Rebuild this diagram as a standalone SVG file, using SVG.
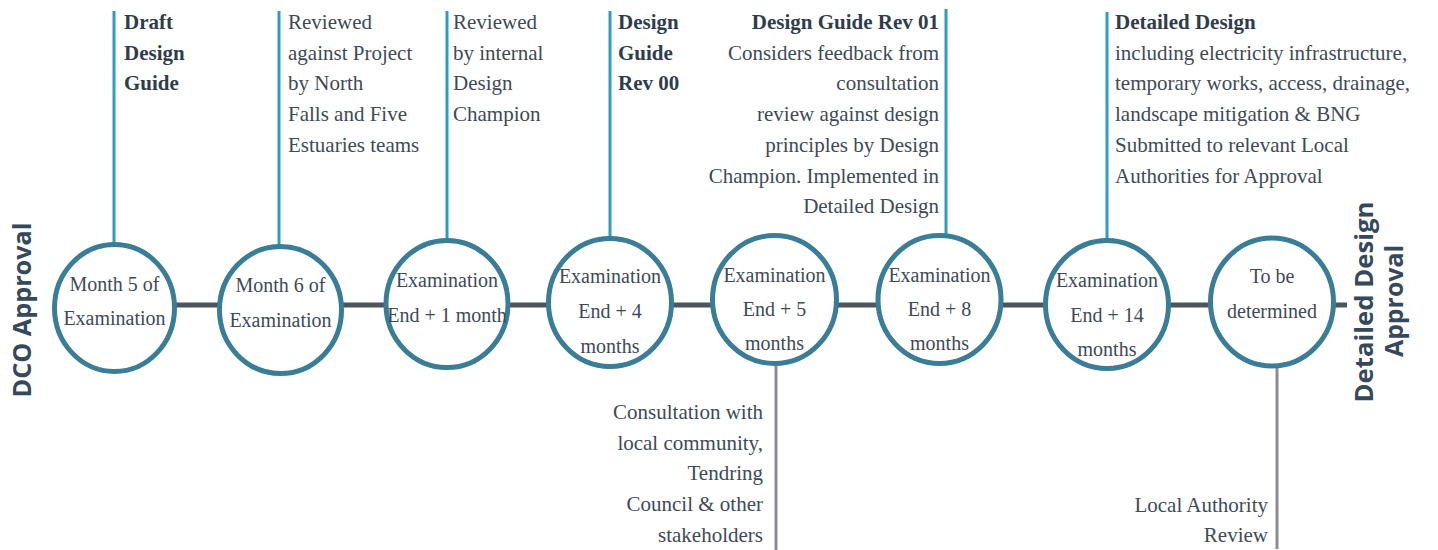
<svg xmlns="http://www.w3.org/2000/svg" width="1438" height="550" viewBox="0 0 1438 550">
<style>
.t{font-family:"Liberation Serif","DejaVu Serif",serif;font-size:21px;fill:#3e4a56}
.b{font-weight:bold;fill:#2f3d4b}
.c{font-family:"Liberation Serif","DejaVu Serif",serif;font-size:20px;fill:#3e4a56;text-anchor:middle}
.e{text-anchor:end}
.ring{fill:#ffffff;stroke:#3a7d96;stroke-width:5}
.up{stroke:#2f9cc2;stroke-width:3}
.down{stroke:#8a8c92;stroke-width:3}
.axis{stroke:#4b555b;stroke-width:5}
.v{font-family:"Open Sans","DejaVu Sans",sans-serif;font-weight:bold;font-size:25px;fill:#35495b;text-anchor:middle}
</style>
<rect width="1438" height="550" fill="#ffffff"/>
<g id="connectors">
<line class="axis" x1="114" y1="305" x2="1347" y2="305"/>
</g>
<g id="dco-approval">
<text class="v" transform="translate(31,310) rotate(-90)" textLength="175" lengthAdjust="spacingAndGlyphs">DCO Approval</text>
</g>
<g id="node1">
<line class="up" x1="114" y1="11" x2="114" y2="243"/>
<ellipse class="ring" cx="114.5" cy="308" rx="60" ry="63.5"/>
<text class="c" x="114.5" y="291">Month 5 of</text>
<text class="c" x="114.5" y="325">Examination</text>
<text class="t b" x="124" y="29">Draft</text>
<text class="t b" x="124" y="60">Design</text>
<text class="t b" x="124" y="90">Guide</text>
</g>
<g id="node2">
<line class="up" x1="279" y1="11" x2="279" y2="245"/>
<ellipse class="ring" cx="280.5" cy="310" rx="61" ry="63.5"/>
<text class="c" x="280.5" y="292">Month 6 of</text>
<text class="c" x="280.5" y="327">Examination</text>
<text class="t" x="288" y="29">Reviewed</text>
<text class="t" x="288" y="60">against Project</text>
<text class="t" x="288" y="90">by North</text>
<text class="t" x="288" y="121">Falls and Five</text>
<text class="t" x="288" y="152">Estuaries teams</text>
</g>
<g id="node3">
<line class="up" x1="447" y1="11" x2="447" y2="239"/>
<ellipse class="ring" cx="447" cy="304" rx="61" ry="63.5"/>
<text class="c" x="447" y="287">Examination</text>
<text class="c" x="447" y="322">End + 1 month</text>
<text class="t" x="453" y="29">Reviewed</text>
<text class="t" x="453" y="60">by internal</text>
<text class="t" x="453" y="90">Design</text>
<text class="t" x="453" y="121">Champion</text>
</g>
<g id="node4">
<line class="up" x1="610" y1="11" x2="610" y2="237"/>
<ellipse class="ring" cx="610" cy="302.5" rx="61.5" ry="64"/>
<text class="c" x="610" y="283">Examination</text>
<text class="c" x="610" y="318">End + 4</text>
<text class="c" x="610" y="353">months</text>
<text class="t b" x="618" y="29">Design</text>
<text class="t b" x="618" y="60">Guide</text>
<text class="t b" x="618" y="90">Rev 00</text>
</g>
<g id="node5">
<line class="down" x1="776" y1="365" x2="776" y2="550"/>
<ellipse class="ring" cx="774.5" cy="299.5" rx="62" ry="64"/>
<text class="c" x="774.5" y="282">Examination</text>
<text class="c" x="774.5" y="316">End + 5</text>
<text class="c" x="774.5" y="350">months</text>
<text class="t e" x="763" y="419">Consultation with</text>
<text class="t e" x="763" y="450">local community,</text>
<text class="t e" x="763" y="480">Tendring</text>
<text class="t e" x="763" y="511">Council &amp; other</text>
<text class="t e" x="763" y="542">stakeholders</text>
</g>
<g id="node6">
<line class="up" x1="946" y1="9" x2="946" y2="234"/>
<ellipse class="ring" cx="939.5" cy="299.5" rx="61.5" ry="64"/>
<text class="c" x="939.5" y="282">Examination</text>
<text class="c" x="939.5" y="316">End + 8</text>
<text class="c" x="939.5" y="350">months</text>
<text class="t b e" x="939" y="29">Design Guide Rev 01</text>
<text class="t e" x="939" y="60">Considers feedback from</text>
<text class="t e" x="939" y="90">consultation</text>
<text class="t e" x="939" y="121">review against design</text>
<text class="t e" x="939" y="152">principles by Design</text>
<text class="t e" x="939" y="183">Champion. Implemented in</text>
<text class="t e" x="939" y="213">Detailed Design</text>
</g>
<g id="node7">
<line class="up" x1="1107" y1="12" x2="1107" y2="239"/>
<ellipse class="ring" cx="1107" cy="304.5" rx="61.5" ry="64"/>
<text class="c" x="1107" y="287">Examination</text>
<text class="c" x="1107" y="322">End + 14</text>
<text class="c" x="1107" y="356">months</text>
<text class="t b" x="1115" y="29">Detailed Design</text>
<text class="t" x="1115" y="60">including electricity infrastructure,</text>
<text class="t" x="1115" y="90">temporary works, access, drainage,</text>
<text class="t" x="1115" y="121">landscape mitigation &amp; BNG</text>
<text class="t" x="1115" y="152">Submitted to relevant Local</text>
<text class="t" x="1115" y="183">Authorities for Approval</text>
</g>
<g id="node8">
<line class="down" x1="1277" y1="367" x2="1277" y2="549"/>
<ellipse class="ring" cx="1272" cy="302" rx="61.5" ry="64"/>
<text class="c" x="1272" y="283">To be</text>
<text class="c" x="1272" y="318">determined</text>
<text class="t e" x="1268" y="512">Local Authority</text>
<text class="t e" x="1268" y="542">Review</text>
</g>
<g id="detailed-design-approval">
<text class="v" transform="translate(1373,302) rotate(-90)" textLength="201" lengthAdjust="spacingAndGlyphs">Detailed Design</text>
<text class="v" transform="translate(1403,301) rotate(-90)" textLength="112" lengthAdjust="spacingAndGlyphs">Approval</text>
</g>
</svg>
